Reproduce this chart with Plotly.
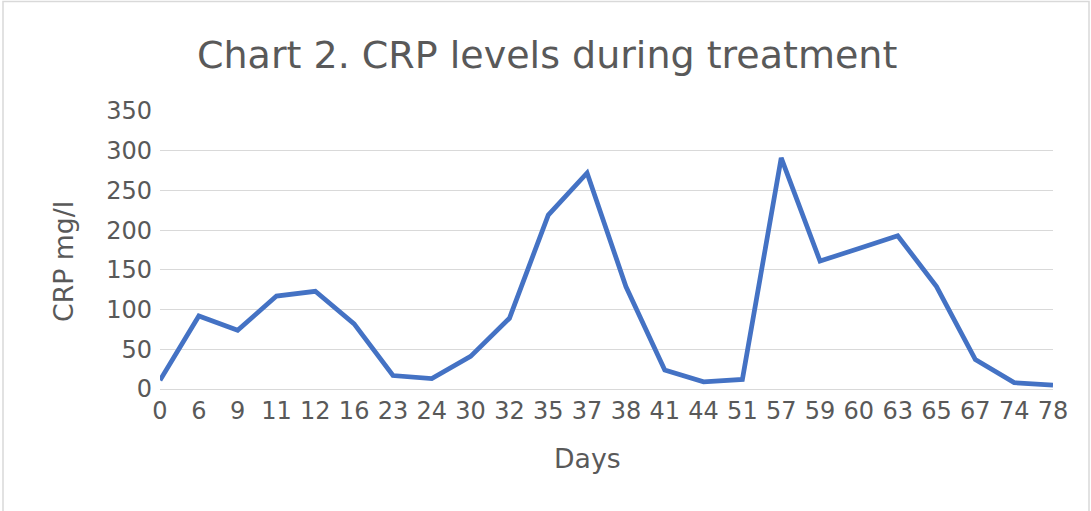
import plotly.graph_objects as go

days = ["0", "6", "9", "11", "12", "16", "23", "24", "30", "32", "35", "37",
        "38", "41", "44", "51", "57", "59", "60", "63", "65", "67", "74", "78"]
crp = [11, 92, 74, 117, 123, 82, 17, 13, 41, 89, 219, 272,
       129, 24, 9, 12, 291, 161, 177, 193, 129, 37, 8, 5]
y_ticks = [0, 50, 100, 150, 200, 250, 300, 350]

title_text = "Chart 2. CRP levels during treatment"
x_title = "Days"
y_title = "CRP mg/l"

W, H = 1091, 511
ml, mr, mt, mb = 160, 38, 111, 122
pw = W - ml - mr
ph = H - mt - mb


def px_x(p):
    return (p - ml) / pw


def px_y(p):
    return (H - mb - p) / ph


txt = "#595959"
font = "DejaVu Sans"
tick_size = 24
axis_title_size = 26.7
title_size = 38

fig = go.Figure()
fig.add_trace(go.Scatter(
    x=days, y=crp, mode="lines",
    line=dict(color="#4472C4", width=4.75),
    hoverinfo="x+y",
))

fig.update_layout(
    width=W, height=H,
    margin=dict(l=ml, r=mr, t=mt, b=mb, autoexpand=False),
    paper_bgcolor="white", plot_bgcolor="white",
    showlegend=False,
    font=dict(family=font, color=txt, size=tick_size),
    xaxis=dict(type="category", range=[0, len(days) - 1],
               showgrid=False, showline=False, zeroline=False,
               ticks="", ticklabelstandoff=5,
               tickfont=dict(size=tick_size, color=txt)),
    yaxis=dict(range=[0, 350], tickvals=y_ticks,
               showgrid=True, gridcolor="#d9d9d9", gridwidth=1.3,
               zeroline=True, zerolinecolor="#d9d9d9", zerolinewidth=1.3,
               showline=False, ticks="", ticklabelstandoff=7,
               tickfont=dict(size=tick_size, color=txt)),
    annotations=[
        dict(text=title_text, xref="paper", yref="paper",
             x=px_x(546.5), y=px_y(55), xanchor="center", yanchor="middle",
             showarrow=False, font=dict(size=title_size, color=txt, family=font)),
        dict(text=x_title, xref="paper", yref="paper",
             x=px_x(587.5), y=px_y(458), xanchor="center", yanchor="middle",
             showarrow=False, font=dict(size=axis_title_size, color=txt, family=font)),
        dict(text=y_title, xref="paper", yref="paper", textangle=-90,
             x=px_x(63), y=px_y(262), xanchor="center", yanchor="middle",
             showarrow=False, font=dict(size=axis_title_size, color=txt, family=font)),
    ],
)

# outer chart border (light gray)
fig.add_shape(type="rect", xref="paper", yref="paper",
              x0=px_x(3), x1=px_x(1089), y0=px_y(530), y1=px_y(1.5),
              line=dict(color="#d9d9d9", width=1.5), fillcolor="rgba(0,0,0,0)",
              layer="below")

fig.write_html("out.html", config={"displayModeBar": False},
               post_script="document.body.style.margin='0';")
